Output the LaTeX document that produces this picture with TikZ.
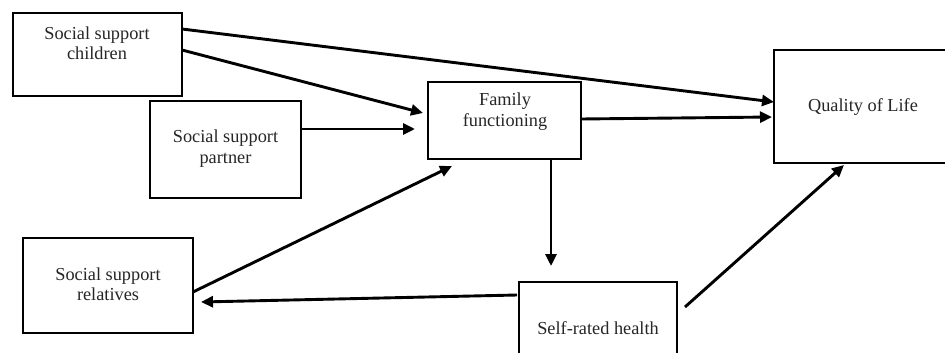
\documentclass[tikz,border=0pt]{standalone}
\usepackage{fontspec}
\setmainfont{Liberation Serif}
\usetikzlibrary{arrows.meta,calc}
\begin{document}
\begin{tikzpicture}[x=1pt,y=-1pt,
  box/.style={draw,line width=1.9pt,inner sep=0pt,outer sep=0pt},
  txt/.style={align=center,inner sep=0pt,text=black!85,font=\fontsize{18.3}{20.5}\selectfont},
  conn/.style={line width=2.9pt,-{Triangle[length=12pt,width=11pt]}}]
\useasboundingbox[fill=white] (0,0) rectangle (945,353);
% boxes
\node[box,minimum width=169pt,minimum height=83pt] (ch) at (97.5,54.5) {};
\node[box,minimum width=151pt,minimum height=97pt] (pa) at (225.5,149.5) {};
\node[box,minimum width=153pt,minimum height=77pt] (fa) at (504.5,120.5) {};
\node[box,minimum width=190pt,minimum height=113pt] (ql) at (869,106.5) {};
\node[box,minimum width=170pt,minimum height=95pt] (re) at (108,285.5) {};
\node[box,minimum width=158pt,minimum height=88pt] (sr) at (598,326) {};
% texts
\node[txt] (tch) at (97,43) {Social support\\children};
\node[txt] (tpa) at (225.5,148.5) {Social support\\partner};
\node[txt] (tfa) at (505,111.5) {Family\\functioning};
\node[txt] (tql) at (863,107) {Quality of Life};
\node[txt] (tre) at (108,284) {Social support\\relatives};
\node[txt] (tsr) at (598,328) {Self-rated health};
% connectors
\draw[conn] ([yshift=-16pt]ch.north east) -- ([yshift=-52pt]ql.north west);
\draw[conn] ([yshift=-37pt]ch.north east) -- ([xshift=-5pt,yshift=-31pt]fa.north west);
\draw[conn] ([yshift=-28pt]pa.north east) -- ([xshift=-13pt,yshift=-28pt]pa.north east -| fa.west);
\draw[conn] ([yshift=-54pt]re.north east) -- ([xshift=24pt,yshift=-7pt]fa.south west);
\draw[conn] ([yshift=-37pt]fa.north east) -- ([xshift=-2pt,yshift=-67pt]ql.north west);
\draw[conn] ([xshift=123pt]fa.south west) -- ([xshift=123pt,yshift=-107pt]fa.south west);
\draw[conn] ([xshift=-2pt,yshift=-13pt]sr.north west) -- ([xshift=8pt,yshift=-64pt]re.north east);
\draw[conn] ([xshift=8pt,yshift=-25pt]sr.north east) -- ([xshift=70pt,yshift=-2pt]ql.south west);
\end{tikzpicture}
\end{document}
